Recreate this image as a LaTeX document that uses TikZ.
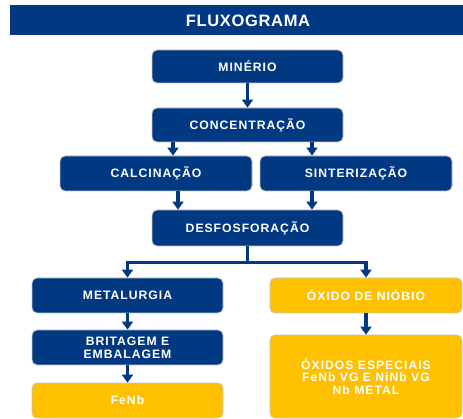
\documentclass[tikz,border=0pt]{standalone}
\usepackage{fontspec}
\setmainfont{Liberation Sans}
\newfontfamily\boxfont{Liberation Sans}[LetterSpace=8]
\newfontfamily\titlefont{Liberation Sans}[LetterSpace=4]
\usetikzlibrary{arrows.meta}
\definecolor{fblue}{RGB}{0,56,130}
\definecolor{fyellow}{RGB}{255,192,0}
\tikzset{
  box/.style={rectangle, rounded corners=5pt, fill=fblue, draw=gray!45, line width=0.8pt,
    text=white, font=\boxfont\fontsize{12.2}{12.8}\selectfont\bfseries, align=center,
    inner sep=2pt},
  ybox/.style={box, fill=fyellow},
  arr/.style={draw=fblue, line width=3.2pt, -{Triangle[width=11pt,length=8pt]}},
}
\begin{document}
\begin{tikzpicture}[x=1pt,y=-1pt]
\useasboundingbox (0,0) rectangle (463,419);
\fill[white] (0,0) rectangle (463,419);
\fill[fblue] (10,5) rectangle (463,35);
\node[text=white, font=\titlefont\fontsize{16.5}{18}\selectfont\bfseries] (title) at (248,20.5) {FLUXOGRAMA};

\node[box, minimum width=191, minimum height=33] (min) at (247.5,66.5) {MINÉRIO};
\node[box, minimum width=191, minimum height=34] (conc) at (247.5,125) {CONCENTRAÇÃO};
\node[box, minimum width=192, minimum height=35] (calc) at (156,173.5) {CALCINAÇÃO};
\node[box, minimum width=192, minimum height=35] (sint) at (356,173.5) {SINTERIZAÇÃO};
\node[box, minimum width=191, minimum height=36] (desf) at (247.5,228) {DESFOSFORAÇÃO};
\node[box, minimum width=191, minimum height=35] (metal) at (127.5,295.5) {METALURGIA};
\node[ybox, minimum width=192, minimum height=35] (oxido) at (366,295.5) {ÓXIDO DE NIÓBIO};
\node[box, minimum width=191, minimum height=35] (brit) at (127.5,347.5) {BRITAGEM E\\EMBALAGEM};
\node[ybox, minimum width=191, minimum height=35] (fenb) at (127.5,400.5) {FeNb};
\node[ybox, minimum width=192, minimum height=83] (oxesp) at (366,376.5) {ÓXIDOS ESPECIAIS\\FeNb VG E NiNb VG\\Nb METAL};

\draw[arr] (min.south) -- (conc.north);
\draw[arr] ([xshift=-74.5]conc.south) -- ([xshift=-74.5]conc.south |- calc.north);
\draw[arr] ([xshift=64.5]conc.south) -- ([xshift=64.5]conc.south |- sint.north);
\draw[arr] ([xshift=22]calc.south) -- ([xshift=22]calc.south |- desf.north);
\draw[arr] ([xshift=-44]sint.south) -- ([xshift=-44]sint.south |- desf.north);
\draw[draw=fblue, line width=3.2pt] (desf.south) -- ++(0,16) coordinate (split);
\draw[arr] ([xshift=1.6]split) -| (metal.north);
\draw[arr] ([xshift=-1.6]split) -| (oxido.north);
\draw[arr] (metal.south) -- (brit.north);
\draw[arr] (brit.south) -- (fenb.north);
\draw[arr] (oxido.south) -- (oxesp.north);
\end{tikzpicture}
\end{document}
